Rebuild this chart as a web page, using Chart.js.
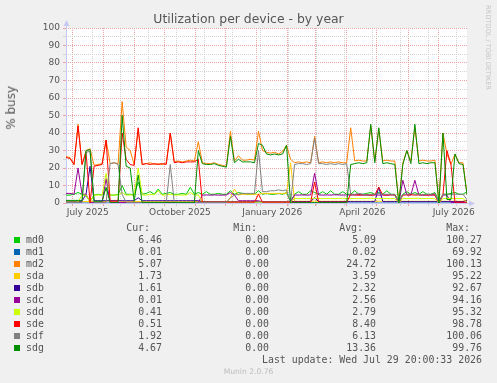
<!DOCTYPE html>
<html>
<head>
<meta charset="utf-8">
<script src="https://cdn.jsdelivr.net/npm/chart.js@4/dist/chart.umd.min.js"></script>
<style>
  body { margin: 0; background: #f0f0f0; }
  #wrap { position: relative; width: 497px; height: 383px; overflow: hidden; }
  #chart { position: absolute; left: 0; top: 0; }
  .txt { position: absolute; color: #555; white-space: pre; }
  .title { left: 0; width: 497px; top: 12px; text-align: center; font: 12.4px "DejaVu Sans"; line-height: 14px; }
  .ylab { left: 4px; top: 86px; font: 12px "DejaVu Sans"; writing-mode: vertical-rl; transform: rotate(180deg); }
  .rrd { left: 484px; top: 5px; font: 6.6px "DejaVu Sans"; color: #c4c4c4; writing-mode: vertical-rl; }
  .leg { font: 9.9px "DejaVu Sans Mono"; line-height: 12px; }
  .num { text-align: right; width: 80px; }
  .box { position: absolute; width: 6px; height: 6px; }
  .munin { left: 0; width: 497px; text-align: center; font: 7.6px "DejaVu Sans"; color: #bdbdbd; }
</style>
</head>
<body>
<div id="wrap">
  <canvas id="chart" width="497" height="383"></canvas>
  <div class="txt title">Utilization per device - by year</div>
  <div class="txt ylab">% busy</div>
  <div class="txt rrd">RRDTOOL / TOBI OETIKER</div>
  <div id="legend"></div>
</div>
<script>
const seriesNames = ["md0", "md1", "md2", "sda", "sdb", "sdc", "sdd", "sde", "sdf", "sdg"];
const seriesColors = ["#00CC00", "#0066B3", "#FF8000", "#FFCC00", "#330099", "#990099", "#CCFF00", "#FF0000", "#808080", "#008F00"];
const curValues = ["6.46", "0.01", "5.07", "1.73", "1.61", "0.01", "0.41", "0.51", "1.92", "4.67"];
const minValues = ["0.00", "0.00", "0.00", "0.00", "0.00", "0.00", "0.00", "0.00", "0.00", "0.00"];
const avgValues = ["5.09", "0.02", "24.72", "3.59", "2.32", "2.56", "2.79", "8.40", "6.13", "13.36"];
const maxValues = ["100.27", "69.92", "100.13", "95.22", "92.67", "94.16", "95.32", "98.78", "100.06", "99.76"];
const lastUpdate = "Last update: Wed Jul 29 20:00:33 2026";
const muninVersion = "Munin 2.0.76";

// one sample every 4 days, graph covers 400 days ending at last update
const STEP_DAYS = 4;
const SPAN_DAYS = 400;
const END_TIME = Date.UTC(2026, 6, 29, 20, 0, 33);

const yTickValues = [0, 5, 10, 15, 20, 25, 30, 35, 40, 45, 50, 55, 60, 65, 70, 75, 80, 85, 90, 95, 100];
const xLabelMonths = [[2025, 6, "July 2025"], [2025, 9, "October 2025"], [2026, 0, "January 2026"], [2026, 3, "April 2026"], [2026, 6, "July 2026"]];
const minorGridDays = [26, 54, 82, 110, 138, 166, 194, 222, 250, 278, 306, 334, 362, 390];

const md0 = [
  4.5, 4.5, 5, 6, 5, 4, 1, 4.5, 5, 4.5,
  8, 4.5, 4.5, 5, 10, 5, 5, 4.5, 12, 5,
  5.5, 6.5, 5, 8, 5, 5.5, 6, 5, 5, 5.5,
  5, 9, 5, 6, 5, 6.5, 5, 5, 5.5, 5,
  5, 7, 5, 6, 5.5, 5, 5, 5, 7, 5,
  5.5, 5, 5, 5.5, 5, 6, 1, 5, 6.5, 5,
  5, 7, 6, 5, 6.5, 5, 7, 5, 5, 6.5,
  5, 5, 7, 5, 5, 5.5, 6, 5, 6, 5,
  7, 5, 5, 1, 5, 6.5, 5, 6, 5, 6.5,
  5, 5, 6, 1, 5, 5, 5.5, 6, 5, 5,
  6.46
];
const md1 = [
  0, 0, 0, 0, 0, 0, 0, 0, 0, 0,
  0, 0, 0, 0, 0, 0, 0, 0, 0, 0,
  0, 0, 0, 0, 0, 0, 0, 0, 0, 0,
  0, 0, 0, 0, 0, 0, 0, 0, 0, 0,
  0, 0, 0, 0, 0, 0, 0, 0, 0, 0,
  0, 0, 0, 0, 0, 0, 0, 0, 0, 0,
  0, 0, 0, 0, 0, 0, 0, 0, 0, 0,
  0, 0, 0, 0, 0, 0, 0, 0, 0, 0,
  0, 0, 0, 0, 0, 0, 0, 0, 0, 0,
  0, 0, 0, 0, 0, 0, 0, 0, 0, 0,
  0.01
];
const md2 = [
  26.5, 26, 22, 45, 22, 30, 31, 21.5, 22, 22.5,
  36, 22.5, 23, 22.5, 58, 32, 30, 22, 42, 22,
  22.5, 23, 22, 22.5, 22, 23, 40, 23.5, 24, 23.5,
  24, 24.5, 24, 35, 23, 22.5, 22.5, 23, 22, 21.5,
  21, 41, 24, 27, 24.5, 24.5, 25, 24.5, 41, 30,
  29, 28.5, 29, 28, 29.5, 33, 25, 23, 23.5, 23,
  23.5, 23, 38, 23, 23.5, 23, 23.5, 23, 23.5, 23,
  23, 43, 24, 24.5, 24, 24, 44, 24, 42, 24,
  24.5, 24, 24, 0, 23, 30, 24, 43, 24, 24.5,
  24, 24, 24.5, 0, 40, 28, 22, 28, 23, 23,
  5.07
];
const sda = [
  0.8, 0.8, 0.8, 0.8, 0.8, 0.8, 0.8, 0.8, 0.8, 0.8,
  0.8, 1.5, 1.5, 1.5, 0.8, 0.8, 0.8, 0.8, 0.8, 0.8,
  0.8, 0.8, 0.8, 0.8, 0.8, 0.8, 0.8, 0.8, 0.8, 0.8,
  0.8, 0.8, 0.8, 0.8, 0.8, 0.8, 0.8, 0.8, 0.8, 0.8,
  0.8, 3, 8, 4.5, 5, 5, 5, 5, 5, 5.5,
  5.5, 5.5, 5.5, 5.5, 5.5, 5.5, 23, 1, 1, 1,
  1, 1, 1, 1, 1, 1, 1, 1, 1, 1,
  1, 1, 1, 1, 1, 1, 1, 1, 1, 1,
  1, 1, 1, 1, 1, 1, 1, 1, 1, 1,
  1, 1, 1, 1, 1, 1, 1, 1, 1, 1,
  1.73
];
const sdb = [
  1, 1, 1, 1, 1, 5, 21, 1.3, 1.3, 1.3,
  1.3, 1.3, 1.3, 1.3, 1.3, 1.3, 1.3, 1.3, 3, 1.3,
  1.3, 1.3, 1.3, 1.3, 1.3, 1.3, 1.3, 1.3, 1.3, 1.3,
  1.3, 1.3, 1.3, 1.3, 0.8, 0.8, 0.8, 0.8, 0.8, 0.8,
  0.8, 0.8, 0.8, 0.8, 0.8, 0.8, 0.8, 0.8, 0.8, 0.8,
  0.8, 0.8, 0.8, 0.8, 0.8, 0.8, 0.8, 0.8, 0.8, 0.8,
  0.8, 0.8, 3, 0.8, 0.8, 0.8, 0.8, 0.8, 0.8, 0.8,
  0.8, 0.8, 0.8, 0.8, 0.8, 0.8, 0.8, 0.8, 9, 0.8,
  0.8, 0.8, 0.8, 0.8, 0.8, 0.8, 0.8, 0.8, 0.8, 0.8,
  0.8, 0.8, 0.8, 0.8, 0.8, 0.8, 0.8, 0.8, 0.8, 0.8,
  1.61
];
const sdc = [
  5.5, 5.5, 5, 20, 5, 5, 0.5, 0.3, 0.3, 0.3,
  14, 0.3, 0.3, 0.3, 0.3, 0.3, 0.3, 0.3, 0.3, 0.3,
  0.3, 0.3, 0.3, 0.3, 0.3, 0.3, 0.3, 0.3, 0.3, 0.3,
  0.3, 0.3, 0.3, 0.3, 4.5, 4.6, 4.5, 4.6, 4.5, 4.5,
  4.6, 6, 4.5, 1.3, 1.3, 1.3, 1.3, 1.3, 1.3, 0.5,
  0.5, 0.5, 0.5, 0.5, 0.5, 0.5, 0.5, 4.6, 4.5, 4.6,
  4.5, 4.6, 17, 4.6, 4.5, 4.6, 4.5, 4.7, 4.6, 4.5,
  4.6, 4.5, 4.6, 4.7, 4.5, 4.6, 4.5, 4.6, 4.5, 4.6,
  4.5, 4.6, 4.7, 0, 13, 4.6, 4.5, 13, 4.6, 4.5,
  4.6, 4.5, 4.6, 0, 4.6, 4.5, 0.3, 0.3, 0.3, 0.3,
  0.01
];
const sdd = [
  0.5, 0.5, 0.5, 0.5, 4.5, 4.5, 0.5, 4.5, 4.6, 4.5,
  17, 4.5, 4.6, 4.5, 6, 4.5, 4.6, 4.5, 20, 4.6,
  4.5, 5, 4.6, 7, 4.5, 4.6, 5, 4.5, 4.6, 4.5,
  4.6, 6, 4.5, 4.6, 0.5, 0.5, 0.5, 0.5, 0.5, 0.5,
  0.5, 0.5, 0.5, 0.5, 0.5, 0.5, 0.5, 0.5, 0.5, 0.5,
  0.5, 0.5, 0.5, 0.5, 0.5, 0.5, 0.5, 2.6, 2.5, 2.6,
  2.6, 2.5, 2.7, 2.6, 2.5, 2.6, 2.6, 2.5, 2.6, 2.7,
  2.6, 2.5, 2.6, 2.6, 2.5, 2.6, 2.7, 2.6, 2.5, 2.6,
  2.6, 2.5, 2.6, 0, 2.6, 2.5, 2.6, 2.7, 2.6, 2.5,
  2.6, 2.6, 2.5, 0, 2.6, 2.5, 2.6, 2.6, 2.5, 2.6,
  0.41
];
const sde = [
  26, 25.5, 22, 44, 22, 29, 0, 21, 21.5, 22,
  36, 1, 1, 1, 40, 25, 22, 21.5, 43, 22,
  22.5, 22, 22.5, 22, 22.5, 22, 40, 23, 23.5, 23,
  23.5, 23.5, 23.5, 25, 0.5, 0.5, 0.5, 0.5, 0.5, 0.5,
  0.5, 0.5, 0.5, 0.5, 0.5, 0.5, 0.5, 0.5, 5, 0.5,
  0.5, 0.5, 0.5, 0.5, 0.5, 0.5, 0.5, 0.5, 0.5, 0.5,
  0.5, 0.5, 12, 0.5, 0.5, 0.5, 0.5, 0.5, 0.5, 0.5,
  0.5, 5, 4.6, 4.5, 4.7, 4.6, 4.5, 4.6, 9, 4.6,
  4.5, 4.7, 4.6, 0, 4.5, 4.6, 4.7, 4.5, 4.6, 4.6,
  4.5, 4.7, 4.6, 0, 4.6, 30, 22, 0.5, 0.5, 0.5,
  0.51
];
const sdf = [
  0.3, 0.3, 0.3, 0.3, 0.3, 29, 29.5, 0.3, 0.3, 0.3,
  0.3, 22.5, 23, 22, 5, 0.3, 0.3, 0.3, 0.3, 0.3,
  0.3, 0.3, 0.3, 0.3, 0.3, 0.3, 22, 0.3, 0.3, 0.3,
  0.3, 0.3, 0.3, 0.3, 0.3, 0.3, 0.3, 0.3, 0.3, 0.3,
  0.3, 3, 4.5, 5, 5.5, 5.5, 5.5, 5.5, 30, 6.5,
  6.5, 7, 7, 7.5, 7, 7.5, 0, 22, 22.5, 22.5,
  22, 22.5, 37, 22.5, 22.5, 22, 22.5, 22, 22.5, 22,
  22.5, 5, 5, 5.5, 5, 4.5, 5, 5, 5.5, 5,
  5, 5, 4.5, 0, 5, 5, 5.5, 5, 5, 4.5,
  5, 5, 5.5, 0, 5, 5, 5, 5, 5, 5,
  1.92
];
const sdg = [
  1.5, 1.5, 1.5, 1.5, 1.5, 30, 30.5, 1, 1, 1,
  9, 0.2, 0.2, 0.2, 50, 21, 20, 1, 16, 0.2,
  0.2, 0.2, 0.2, 0.2, 0.2, 0.2, 0.2, 0.2, 0.2, 0.2,
  0.2, 0.2, 0.2, 30, 22.5, 22, 22, 22.5, 21.5, 21,
  20.5, 38, 23, 25, 23.5, 23.5, 23.5, 23, 34, 33,
  28, 27.5, 28, 27.5, 28, 33, 0, 0.2, 0.2, 0.2,
  0.2, 0.2, 0.2, 0.2, 0.2, 0.2, 0.2, 0.2, 0.2, 0.2,
  0.2, 22, 22.5, 23, 22.5, 23, 45, 23, 43, 22.5,
  23, 22.5, 22, 0, 22, 30, 22.5, 45, 22.5, 23,
  22.5, 23, 23, 0, 40, 2, 2, 28, 22.5, 22,
  4.67
];
const seriesData = [md0, md1, md2, sda, sdb, sdc, sdd, sde, sdf, sdg];

const startTime = END_TIME - SPAN_DAYS * 86400000;
const dayOf = (y, m, d) => (Date.UTC(y, m, d) - startTime) / 86400000;

// month starts get the red major grid, labels sit mid-month
const majorDays = [];
for (let y = 2025, m = 6; y * 12 + m <= 2026 * 12 + 6; m++) {
  if (m > 11) { m = 0; y++; }
  majorDays.push(dayOf(y, m, 1));
}
const labelByDay = new Map(xLabelMonths.map(([y, m, text]) => [dayOf(y, m, 1) + 15.5, text]));

const MAJOR = "#EBA3A3";
const MINOR = "#D2D2D2";
const AXIS = "#C8C8F4";

const xTicks = [...majorDays, ...minorGridDays, ...labelByDay.keys()].sort((a, b) => a - b);
const xGridColor = (v) => majorDays.includes(v) ? MAJOR : (minorGridDays.includes(v) ? MINOR : "rgba(0,0,0,0)");
const yGridColor = (v) => v % 10 === 0 ? MAJOR : MINOR;

const frame = {
  id: "frame",
  beforeDraw(chart) {
    const { ctx, chartArea: a } = chart;
    ctx.save();
    ctx.fillStyle = "#ffffff";
    ctx.fillRect(a.left, a.top, a.right - a.left, a.bottom - a.top);
    ctx.restore();
  },
  beforeDatasetsDraw(chart) {
    const { ctx, chartArea: a } = chart;
    const x0 = a.left + 0.5, y0 = a.bottom + 0.5;
    ctx.save();
    ctx.strokeStyle = AXIS;
    ctx.fillStyle = AXIS;
    ctx.lineWidth = 1;
    ctx.beginPath();
    ctx.moveTo(x0, y0);
    ctx.lineTo(x0, a.top - 3);
    ctx.moveTo(x0, y0);
    ctx.lineTo(a.right + 3, y0);
    ctx.stroke();
    ctx.beginPath();
    ctx.moveTo(x0 - 3, a.top - 2);
    ctx.lineTo(x0, a.top - 8);
    ctx.lineTo(x0 + 3, a.top - 2);
    ctx.closePath();
    ctx.fill();
    ctx.beginPath();
    ctx.moveTo(a.right + 2, y0 - 3);
    ctx.lineTo(a.right + 8, y0);
    ctx.lineTo(a.right + 2, y0 + 3);
    ctx.closePath();
    ctx.fill();
    ctx.restore();
  }
};

const datasets = seriesNames.map((name, k) => ({
  label: name,
  data: seriesData[k].map((v, i) => ({ x: i * STEP_DAYS, y: v })),
  borderColor: seriesColors[k],
  backgroundColor: seriesColors[k],
  borderWidth: 1,
  pointRadius: 0,
  tension: 0,
  fill: false,
  order: seriesNames.length - k,
}));

new Chart(document.getElementById("chart"), {
  type: "line",
  data: { datasets },
  plugins: [frame],
  options: {
    responsive: false,
    animation: false,
    devicePixelRatio: 1,
    layout: { padding: { left: 0, top: 28, right: 30, bottom: 160 } },
    plugins: { legend: { display: false }, tooltip: { enabled: false } },
    scales: {
      x: {
        type: "linear",
        min: 0,
        max: SPAN_DAYS,
        afterBuildTicks: (scale) => { scale.ticks = xTicks.map((v) => ({ value: v })); },
        afterFit: (scale) => { scale.height = 20; },
        ticks: {
          autoSkip: false,
          maxRotation: 0,
          minRotation: 0,
          padding: 1,
          color: "#555",
          font: { family: "DejaVu Sans", size: 9 },
          callback: (v) => labelByDay.get(v) || "",
        },
        grid: {
          color: (ctx) => xGridColor(ctx.tick.value),
          tickLength: 3,
          tickBorderDash: [],
        },
        border: { display: false, dash: [1, 1] },
      },
      y: {
        min: 0,
        max: 100,
        afterBuildTicks: (scale) => { scale.ticks = yTickValues.map((v) => ({ value: v })); },
        afterFit: (scale) => { scale.width = 66; },
        ticks: {
          autoSkip: false,
          padding: 3,
          color: "#555",
          font: { family: "DejaVu Sans", size: 9 },
          callback: (v) => v % 10 === 0 ? String(v) : "",
        },
        grid: {
          color: (ctx) => yGridColor(ctx.tick.value),
          tickLength: 3,
          tickBorderDash: [],
        },
        border: { display: false, dash: [1, 1] },
      },
    },
  },
});

// legend table below the plot
function addText(text, cls, left, top, extra) {
  const el = document.createElement("div");
  el.className = "txt " + cls;
  el.textContent = text;
  el.style.left = left + "px";
  el.style.top = top + "px";
  if (extra) Object.assign(el.style, extra);
  document.getElementById("legend").appendChild(el);
}
const columns = [
  ["Cur:", 150, 162, curValues],
  ["Min:", 257, 269, minValues],
  ["Avg:", 363, 376, avgValues],
  ["Max:", 470, 482, maxValues],
];
const headerY = 228;
columns.forEach(([head, headRight]) => addText(head, "leg num", headRight - 80, headerY - 6));
seriesNames.forEach((name, k) => {
  const cy = headerY + 12 * (k + 1);
  const box = document.createElement("div");
  box.className = "box";
  box.style.left = "14px";
  box.style.top = (cy - 3) + "px";
  box.style.background = seriesColors[k];
  document.getElementById("legend").appendChild(box);
  addText(name, "leg", 26, cy - 6);
  columns.forEach(([, , valRight, vals]) => addText(vals[k], "leg num", valRight - 80, cy - 6));
});
addText(lastUpdate, "leg", 0, 354, { left: "auto", right: (497 - 482) + "px" });
addText(muninVersion, "munin", 0, 367);
</script>
</body>
</html>
